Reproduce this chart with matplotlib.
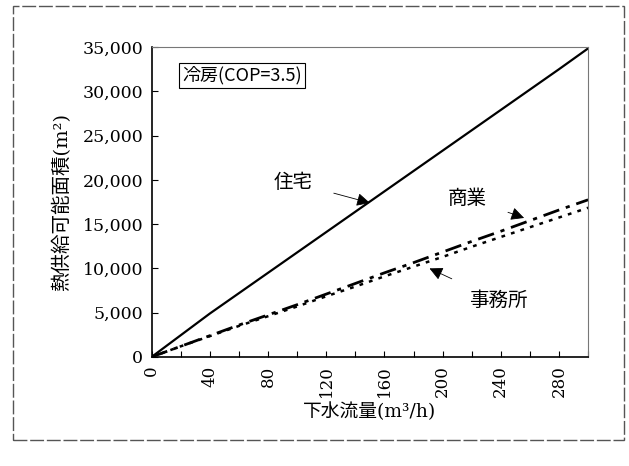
import matplotlib.pyplot as plt
from matplotlib.patches import Rectangle

plt.rcParams['font.family'] = ['DejaVu Serif', 'Noto Sans CJK JP']

# 下水流量 (m3/h)
flow = [0, 20, 40, 60, 80, 100, 120, 140, 160, 180, 200, 220, 240, 260, 280, 300]

# 熱供給可能面積 (m2)
housing = [0, 2450, 4900, 7200, 9500, 11800, 14100, 16400, 18700, 21000,
           23300, 25600, 27900, 30200, 32500, 34850]
commercial = [0, 1200, 2400, 3600, 4750, 5900, 7100, 8300, 9500, 10650,
              11850, 13050, 14200, 15400, 16600, 17750]
office = [0, 1200, 2350, 3500, 4600, 5700, 6850, 7950, 9100, 10200,
          11300, 12450, 13550, 14650, 15750, 16850]

x_ticks = list(range(0, 301, 20))
x_labels = [str(v) if v % 40 == 0 and v < 300 else "" for v in x_ticks]
y_ticks = list(range(0, 35001, 5000))

jp = ['Noto Sans CJK JP', 'DejaVu Sans']

fig = plt.figure(figsize=(6.29, 4.66), dpi=100)
ax = fig.add_axes([0.241, 0.234, 0.694, 0.665])

ax.plot(flow, housing, color="black", lw=1.6, linestyle="-")
ax.plot(flow, commercial, color="black", lw=2.0, linestyle=(0, (6, 2.5, 1.5, 2.5)))
ax.plot(flow, office, color="black", lw=1.8, linestyle=(0, (1.5, 2.5)))

ax.set_xlim(0, 300)
ax.set_ylim(0, 35000)
ax.set_xticks(x_ticks)
ax.set_xticklabels(x_labels, rotation=90, fontsize=12)
ax.set_yticks(y_ticks)
ax.set_yticklabels([f"{v:,}" for v in y_ticks], fontsize=12.5)
ax.tick_params(axis="both", direction="in", length=4, width=0.8, pad=6)

for side in ["top", "right"]:
    ax.spines[side].set_linestyle((0, (1, 1)))
    ax.spines[side].set_color("#777777")
    ax.spines[side].set_linewidth(0.8)
for side in ["left", "bottom"]:
    ax.spines[side].set_linewidth(1.2)

ax.set_xlabel("下水流量(m³/h)", fontsize=13.5, labelpad=4)
ax.set_ylabel("熱供給可能面積(m²)", fontsize=14, labelpad=8)

ax.text(21, 31800, "冷房(COP=3.5)", family=jp, fontsize=13, va="center", ha="left",
        bbox=dict(boxstyle="square,pad=0.2", fc="white", ec="black", lw=0.8))

arrow = dict(arrowstyle="-|>", color="black", lw=0.6, mutation_scale=20)
ax.annotate("住宅", xy=(150, 17400), xytext=(97, 19750), family=jp, fontsize=14,
            ha="center", va="center", arrowprops=dict(arrow, shrinkA=14, shrinkB=0))
ax.annotate("商業", xy=(256, 15700), xytext=(217, 17950), family=jp, fontsize=14,
            ha="center", va="center", arrowprops=dict(arrow, shrinkA=14, shrinkB=0))
ax.annotate("事務所", xy=(191, 10000), xytext=(238, 6400), family=jp, fontsize=14,
            ha="center", va="center", arrowprops=dict(arrow, shrinkA=14, shrinkB=0))

fig.patches.append(Rectangle((0.02, 0.056), 0.972, 0.931, transform=fig.transFigure,
                             fill=False, ec="#555555", lw=1.0, linestyle=(0, (10, 2))))

fig.savefig("out.png", dpi=100)
